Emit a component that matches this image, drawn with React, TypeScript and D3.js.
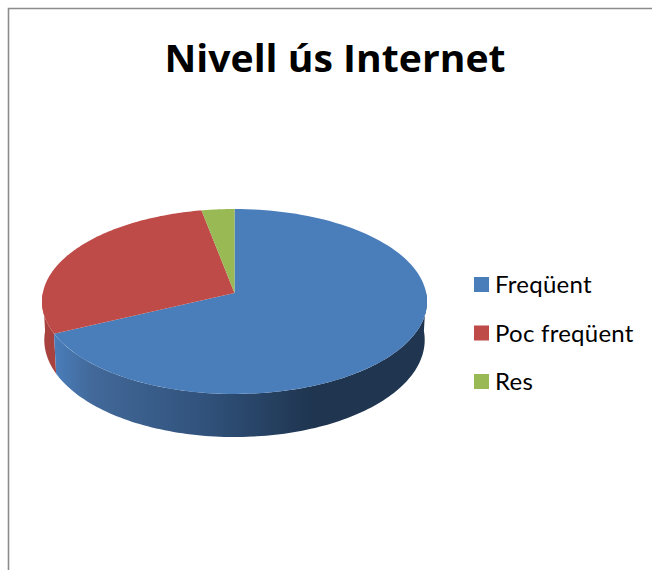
import React from "react";
import * as d3 from "d3";

const categories = ["Freqüent", "Poc freqüent", "Res"];
const values = [68, 29, 3];
const colors = ["#4a7ebb", "#be4b48", "#98b954"];
const sideColors = ["#3f6c9f", "#a8423f", "#82a047"];
const title = "Nivell ús Internet";

const W = 652, H = 570;
const cx = 234.5, cy = 293, a = 91.7, b = 191.7, k = 0.0919;
const depth = 38, bottomScaleX = 0.988, bottomScaleY = 1.05;

const project = (t: number, sx = 1, sy = 1, dy = 0): [number, number] => {
  const X = Math.sin(t), Y = Math.cos(t), d = 1 + k * Y;
  return [cx + (sx * b * X) / d, cy + dy - (sy * a * Y) / d];
};
const steps = (t0: number, t1: number) => d3.range(0, 121).map((i) => t0 + ((t1 - t0) * i) / 120);
const line = d3.line();

export default function App() {
  const arcs = d3.pie<number>().sort(null)(values);
  const top = (s: any) => {
    const pts = steps(s.startAngle, s.endAngle).map((t) => project(t));
    return line([[cx, cy], ...pts])! + "Z";
  };
  const side = (t0: number, t1: number) => {
    const upper = steps(t0, t1).map((t) => project(t));
    const lower = steps(t0, t1).map((t) => project(t, bottomScaleX, bottomScaleY, depth)).reverse();
    return line([...upper, ...lower])! + "Z";
  };
  const tau = Math.PI * 2;
  const legendY = d3.scalePoint<string>().domain(categories).range([284.5, 381.5]);
  return (
    <svg width={W} height={H} viewBox={`0 0 ${W} ${H}`} style={{ position: "absolute", left: 0, top: 0, background: "#fff" }}>
      <defs>
        <linearGradient id="wall" gradientUnits="userSpaceOnUse" x1={53} x2={312} y1={0} y2={0}>
          <stop offset="0" stopColor="#4a7ebb" />
          <stop offset="0.15" stopColor="#42699a" />
          <stop offset="0.6" stopColor="#30517a" />
          <stop offset="1" stopColor="#1f3550" />
        </linearGradient>
      </defs>
      <path d={`M8.5 ${H}V8.5H${W}`} fill="none" stroke="#8c8c8c" strokeWidth={1.6} />
      <text x={335} y={72} textAnchor="middle" fontFamily="'Open Sans', sans-serif" fontWeight={700} fontSize={37} fill="#000" textLength={341} lengthAdjust="spacingAndGlyphs">{title}</text>
      <path d={side(arcs[1].startAngle, tau * 0.75)} fill={sideColors[1]} />
      <path d={side(Math.PI / 2, arcs[0].endAngle)} fill="url(#wall)" />
      {arcs.map((s, i) => <path key={categories[i]} d={top(s)} fill={colors[i]} />)}
      {categories.map((c, i) => (
        <g key={c}>
          <rect x={474} y={legendY(c)! - 7.5} width={15} height={15} fill={colors[i]} />
          <text x={495} y={legendY(c)! + 8.5} fontFamily="Lato, 'Open Sans', sans-serif" fontSize={24} letterSpacing={0.25} fill="#000">{c}</text>
        </g>
      ))}
    </svg>
  );
}
